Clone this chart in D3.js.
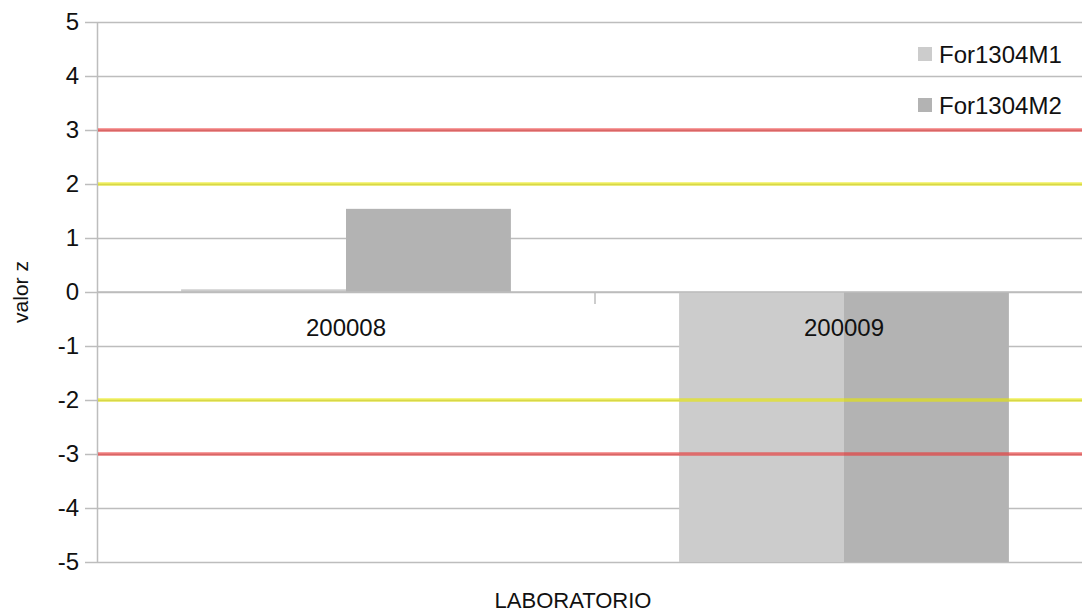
<!DOCTYPE html>
<html>
<head>
<meta charset="utf-8">
<script src="https://cdn.jsdelivr.net/npm/d3@7"></script>
<style>
  body { margin: 0; background: white; }
  text { font-family: "Liberation Sans", Arial, sans-serif; fill: #111; }
</style>
</head>
<body>
<main></main>
<script>
// data
let categories = ["200008", "200009"]
let seriesNames = ["For1304M1", "For1304M2"]
let seriesColors = ["#cccccc", "#b3b3b3"]
let valuesM1 = [0.05, -5]
let valuesM2 = [1.54, -5]
let yTicks = [-5, -4, -3, -2, -1, 0, 1, 2, 3, 4, 5]
let limitLines = [
    { value: 3, color: "#e83030" },
    { value: -3, color: "#e83030" },
    { value: 2, color: "#e6e600" },
    { value: -2, color: "#e6e600" }
]

const svgWidth = 1082
const svgHeight = 612

const plotLeft = 97
const plotTop = 22
const plotBottom = 562
const plotRight = 1093

let svg = d3.select("main")
    .append("svg")
    .attr("width", svgWidth)
    .attr("height", svgHeight)

//scales
let yScale = d3.scaleLinear()
    .domain([-5, 5])
    .range([plotBottom, plotTop])
    .clamp(true)

let xScale = d3.scaleBand()
    .domain(categories)
    .range([plotLeft, plotRight])

let subScale = d3.scaleBand()
    .domain(seriesNames)
    .range([0, xScale.bandwidth()])
    .paddingOuter(0.51)

//gridlines
let grid = svg.append("g")
    .attr("transform", `translate(${plotLeft}, 0)`)
    .call(d3.axisLeft(yScale).tickValues(yTicks).tickSize(-(svgWidth - plotLeft)).tickFormat(""))
grid.select("path").remove()
grid.selectAll("line").style("stroke", "#bdbdbd").style("stroke-width", 1.5)

//bars
let rows = categories.map((c, i) => ({ cat: c, vals: [valuesM1[i], valuesM2[i]] }))

let groups = svg.selectAll(".grp")
    .data(rows)
    .enter()
    .append("g")
    .attr("transform", (d) => `translate(${xScale(d.cat)}, 0)`)

groups.selectAll("rect")
    .data((d) => d.vals.map((v, j) => ({ name: seriesNames[j], v: v, color: seriesColors[j] })))
    .enter()
    .append("rect")
    .attr("x", (d) => subScale(d.name))
    .attr("y", (d) => yScale(Math.max(0, d.v)))
    .attr("width", subScale.bandwidth())
    .attr("height", (d) => Math.abs(yScale(d.v) - yScale(0)))
    .attr("fill", (d) => d.color)

//y axis
let yAxis = svg.append("g")
    .attr("transform", `translate(${plotLeft}, 0)`)
    .call(d3.axisLeft(yScale).tickValues(yTicks).tickFormat((d) => String(d))
        .tickSize(12).tickPadding(6).tickSizeOuter(0))
yAxis.select("path").style("stroke", "#bdbdbd").style("stroke-width", 1.5)
yAxis.selectAll("line").style("stroke", "#bdbdbd").style("stroke-width", 1.5)
yAxis.selectAll("text")
    .style("font-size", "24px")
    .style("font-family", "Liberation Sans, Arial, sans-serif")
    .attr("fill", "#111")

//x axis at zero
let xAxis = svg.append("g")
    .attr("transform", `translate(0, ${yScale(0)})`)
xAxis.append("line")
    .attr("x1", plotLeft).attr("x2", svgWidth)
    .attr("stroke", "#bdbdbd").attr("stroke-width", 1.5)
xAxis.selectAll(".sep")
    .data(categories.slice(1))
    .enter()
    .append("line")
    .attr("x1", (d) => xScale(d)).attr("x2", (d) => xScale(d))
    .attr("y1", 0).attr("y2", 12)
    .attr("stroke", "#bdbdbd").attr("stroke-width", 1.5)

//limit lines
svg.selectAll(".limit")
    .data(limitLines)
    .enter()
    .append("line")
    .attr("x1", plotLeft + 1).attr("x2", svgWidth)
    .attr("y1", (d) => yScale(d.value)).attr("y2", (d) => yScale(d.value))
    .attr("stroke", (d) => d.color)
    .attr("stroke-opacity", 0.62)
    .attr("stroke-width", 3.5)

//category labels
svg.selectAll(".cat")
    .data(categories)
    .enter()
    .append("text")
    .attr("x", (d) => xScale(d) + xScale.bandwidth() / 2)
    .attr("y", yScale(0) + 44)
    .attr("text-anchor", "middle")
    .style("font-size", "24px")
    .text((d) => d)

//axis titles
svg.append("text")
    .attr("transform", `translate(28, 292) rotate(-90)`)
    .attr("text-anchor", "middle")
    .style("font-size", "21px")
    .text("valor z")

svg.append("text")
    .attr("x", 573)
    .attr("y", 608)
    .attr("text-anchor", "middle")
    .style("font-size", "22px")
    .text("LABORATORIO")

//legend
let legend = svg.append("g")
    .attr("transform", "translate(918, 0)")
let items = legend.selectAll("g")
    .data(seriesNames)
    .enter()
    .append("g")
    .attr("transform", (d, i) => `translate(0, ${54 + i * 51})`)
items.append("rect")
    .attr("x", 0).attr("y", -7)
    .attr("width", 14).attr("height", 14)
    .attr("fill", (d, i) => seriesColors[i])
items.append("text")
    .attr("x", 21)
    .attr("y", 8.5)
    .style("font-size", "24px")
    .text((d) => d)
</script>
</body>
</html>
